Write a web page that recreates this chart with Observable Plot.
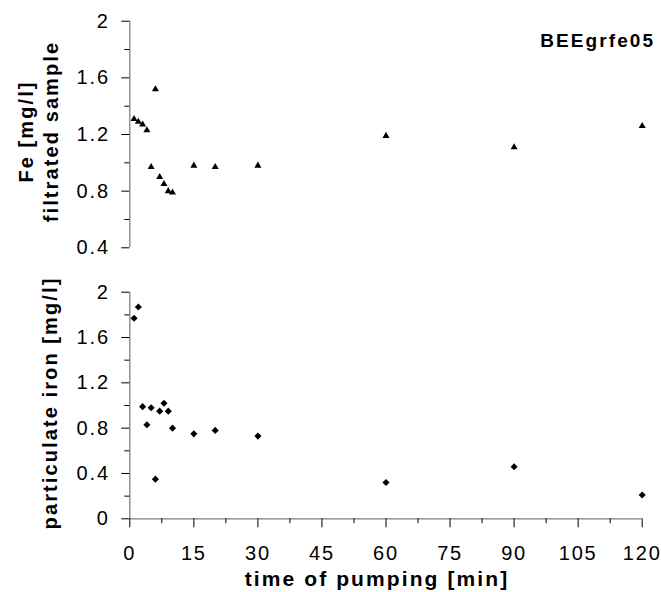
<!DOCTYPE html>
<html>
<head>
<meta charset="utf-8">
<script src="https://cdn.jsdelivr.net/npm/d3@7"></script>
<script src="https://cdn.jsdelivr.net/npm/@observablehq/plot@0.6"></script>
<style>
html, body { margin: 0; padding: 0; background: #fff; }
#chart { position: relative; width: 661px; height: 592px; overflow: hidden; }
#chart svg { display: block; }
</style>
</head>
<body>
<div id="chart"></div>
<script>
// ---- data ----
const times = [1, 2, 3, 4, 5, 6, 7, 8, 9, 10, 15, 20, 30, 60, 90, 120];
const feFiltered = [1.31, 1.29, 1.27, 1.23, 0.97, 1.52, 0.90, 0.85, 0.80, 0.79, 0.98, 0.97, 0.98, 1.19, 1.11, 1.26];
const feParticulate = [1.77, 1.87, 0.99, 0.83, 0.98, 0.35, 0.95, 1.02, 0.95, 0.80, 0.75, 0.78, 0.73, 0.32, 0.46, 0.21];

const topTicks = [0.4, 0.8, 1.2, 1.6, 2];
const topTickLabels = ["0.4", "0.8", "1.2", "1.6", "2"];
const topMinorTicks = [0.6, 1.0, 1.4, 1.8];
const bottomTicks = [0, 0.4, 0.8, 1.2, 1.6, 2];
const bottomTickLabels = ["0", "0.4", "0.8", "1.2", "1.6", "2"];
const bottomMinorTicks = [0.2, 0.6, 1.0, 1.4, 1.8];
const xTicks = [0, 15, 30, 45, 60, 75, 90, 105, 120];
const xTickLabels = ["0", "15", "30", "45", "60", "75", "90", "105", "120"];
const xMinorTicks = [7.5, 22.5, 37.5, 52.5, 67.5, 82.5, 97.5, 112.5];

const topTitleLines = ["Fe [mg/l]", "filtrated sample"];
const bottomTitle = "particulate iron [mg/l]";
const xTitle = "time of pumping [min]";
const sampleLabel = "BEEgrfe05";

// ---- layout ----
const W = 661;
const FONT = "'Liberation Sans', Arial, Helvetica, sans-serif";
const mL = 129.3, mR = 19.3;
const fmt = (ticks, labels) => d => labels[ticks.indexOf(d)];

const topData = times.map((t, i) => ({t, v: feFiltered[i]}));
const bottomData = times.map((t, i) => ({t, v: feParticulate[i]}));

const topPlot = Plot.plot({
  width: W, height: 270,
  marginTop: 20.7, marginBottom: 22.7, marginLeft: mL, marginRight: mR,
  style: {fontFamily: FONT, background: "white", color: "black"},
  x: {domain: [0, 120], axis: null},
  y: {domain: [0.4, 2]},
  marks: [
    Plot.ruleX([0], {stroke: "#808080", strokeWidth: 1.3}),
    Plot.axisY(topMinorTicks, {tickSize: 5, tickFormat: () => "", label: null}),
    Plot.axisY(topTicks, {tickSize: 8, tickPadding: 12, tickFormat: fmt(topTicks, topTickLabels), fontSize: 20, label: null}),
    Plot.dot(topData, {x: "t", y: "v", symbol: "triangle", r: 2.6, fill: "black", stroke: null}),
    Plot.text([sampleLabel], {text: d => d, frameAnchor: "top-right", textAnchor: "end", lineAnchor: "top", dx: 13, dy: 12, fontSize: 19, fontWeight: "bold", className: "ttl"}),
    Plot.text([topTitleLines[0]], {text: d => d, frameAnchor: "left", rotate: -90, textAnchor: "middle", lineAnchor: "bottom", dx: 32 - mL, dy: -3, fontSize: 20, fontWeight: "bold", className: "ttl"}),
    Plot.text([topTitleLines[1]], {text: d => d, frameAnchor: "left", rotate: -90, textAnchor: "middle", lineAnchor: "bottom", dx: 57 - mL, dy: -3, fontSize: 20, fontWeight: "bold", className: "ttl"})
  ]
});

const bottomPlot = Plot.plot({
  width: W, height: 322,
  marginTop: 21.7, marginBottom: 73.7, marginLeft: mL, marginRight: mR,
  style: {fontFamily: FONT, background: "white", color: "black"},
  x: {domain: [0, 120]},
  y: {domain: [0, 2]},
  marks: [
    Plot.ruleX([0], {stroke: "#808080", strokeWidth: 1.3}),
    Plot.ruleY([0], {stroke: "#808080", strokeWidth: 1.3}),
    Plot.axisY(bottomMinorTicks, {tickSize: 5, tickFormat: () => "", label: null}),
    Plot.axisY(bottomTicks, {tickSize: 8, tickPadding: 12, tickFormat: fmt(bottomTicks, bottomTickLabels), fontSize: 20, label: null}),
    Plot.axisX(xMinorTicks, {tickSize: 5, tickFormat: () => "", label: null}),
    Plot.axisX(xTicks, {tickSize: 9, tickPadding: 18, tickFormat: fmt(xTicks, xTickLabels), fontSize: 20, label: null}),
    Plot.dot(bottomData, {x: "t", y: "v", symbol: "diamond2", r: 3.2, fill: "black", stroke: null}),
    Plot.text([bottomTitle], {text: d => d, frameAnchor: "left", rotate: -90, textAnchor: "middle", lineAnchor: "bottom", dx: 56 - mL, dy: -2.5, fontSize: 20, fontWeight: "bold", className: "ttl"}),
    Plot.text([xTitle], {text: d => d, frameAnchor: "bottom", lineAnchor: "bottom", dx: -9, dy: 66.7, fontSize: 21, fontWeight: "bold", className: "ttl"})
  ]
});

for (const svg of [topPlot, bottomPlot]) {
  d3.select(svg).selectAll("text").style("letter-spacing", "1.8px");
  d3.select(svg).selectAll(".ttl text").style("letter-spacing", "2.1px");
}

const chart = document.getElementById("chart");
chart.appendChild(topPlot);
chart.appendChild(bottomPlot);
</script>
</body>
</html>
